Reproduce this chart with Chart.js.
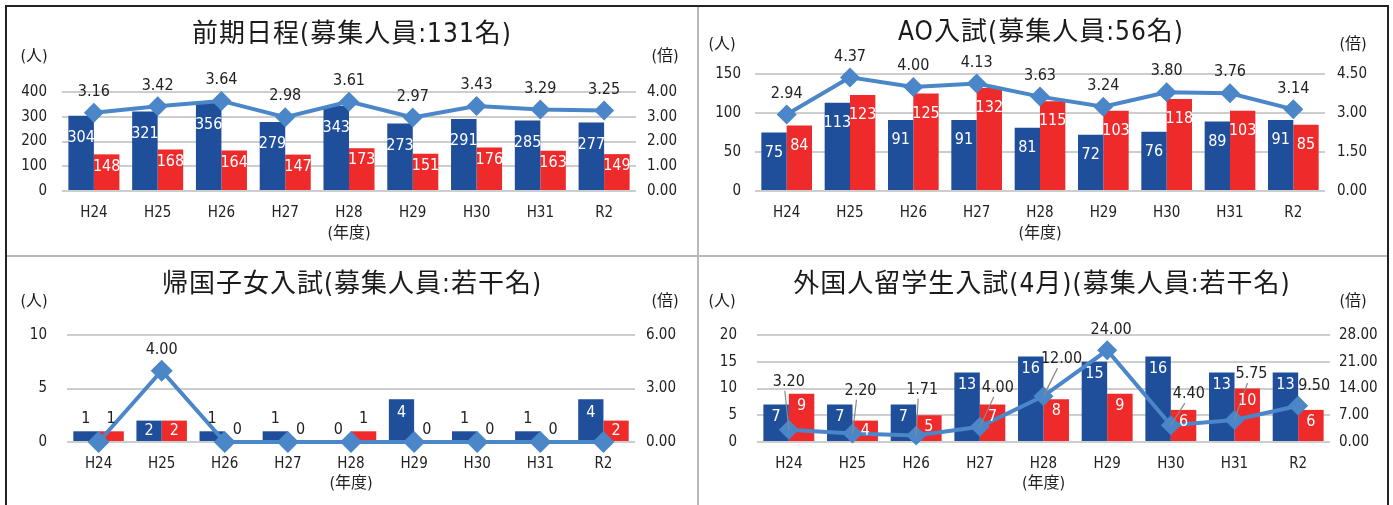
<!DOCTYPE html>
<html>
<head>
<meta charset="utf-8">
<script src="https://cdn.jsdelivr.net/npm/chart.js@4.4.1/dist/chart.umd.min.js"></script>
<style>
  body { margin: 0; background: #fff; width: 1393px; height: 505px; overflow: hidden; position: relative; }
  .frame { position: absolute; left: 5px; top: 5px; width: 1380px; height: 510px; border: 2px solid #222; border-bottom: none; }
  .vline { position: absolute; left: 697px; top: 7px; width: 2px; height: 498px; background: #b9b9bd; }
  .hline { position: absolute; left: 7px; top: 255px; width: 1380px; height: 2px; background: #b9b9bd; }
  canvas { position: absolute; }
</style>
</head>
<body>
<div class="frame"></div>
<div class="vline"></div>
<div class="hline"></div>
<canvas id="c1" width="690" height="248" style="left:7px;top:7px"></canvas>
<canvas id="c2" width="688" height="248" style="left:699px;top:7px"></canvas>
<canvas id="c3" width="690" height="248" style="left:7px;top:257px"></canvas>
<canvas id="c4" width="688" height="248" style="left:699px;top:257px"></canvas>
<script>
// categories
const years = ['H24', 'H25', 'H26', 'H27', 'H28', 'H29', 'H30', 'H31', 'R2'];

// 前期日程
const zenkiApplicants = [304, 321, 356, 279, 343, 273, 291, 285, 277];
const zenkiExaminees = [148, 168, 164, 147, 173, 151, 176, 163, 149];
const zenkiRatio = [3.16, 3.42, 3.64, 2.98, 3.61, 2.97, 3.43, 3.29, 3.25];
const zenkiLeftTicks = [0, 100, 200, 300, 400];
const zenkiRightTicks = [0, 1, 2, 3, 4];

// AO入試
const aoApplicants = [75, 113, 91, 91, 81, 72, 76, 89, 91];
const aoExaminees = [84, 123, 125, 132, 115, 103, 118, 103, 85];
const aoRatio = [2.94, 4.37, 4.00, 4.13, 3.63, 3.24, 3.80, 3.76, 3.14];
const aoLeftTicks = [0, 50, 100, 150];
const aoRightTicks = [0, 1.5, 3, 4.5];

// 帰国子女入試
const kikokuApplicants = [1, 2, 1, 1, 0, 4, 1, 1, 4];
const kikokuExaminees = [1, 2, 0, 0, 1, 0, 0, 0, 2];
const kikokuRatio = [0, 4.00, 0, 0, 0, 0, 0, 0, 0];
const kikokuLeftTicks = [0, 5, 10];
const kikokuRightTicks = [0, 3, 6];

// 外国人留学生入試(4月)
const ryugakuApplicants = [7, 7, 7, 13, 16, 15, 16, 13, 13];
const ryugakuExaminees = [9, 4, 5, 7, 8, 9, 6, 10, 6];
const ryugakuRatio = [3.20, 2.20, 1.71, 4.00, 12.00, 24.00, 4.40, 5.75, 9.50];
const ryugakuLeftTicks = [0, 5, 10, 15, 20];
const ryugakuRightTicks = [0, 7, 14, 21, 28];

const BLUE = '#1f4e9a';
const RED = '#ee2a2b';
const LINE = '#4a86c8';
const NARROW = '"DejaVu Sans Condensed", "Noto Sans CJK JP", sans-serif';

// title, (人), (倍)
const decorPlugin = {
  id: 'decor',
  afterDraw(chart, args, o) {
    const ctx = chart.ctx;
    ctx.save();
    ctx.fillStyle = '#1a1a1a';
    ctx.textBaseline = 'middle';
    ctx.textAlign = 'center';
    ctx.font = '400 26px ' + NARROW;
    ctx.letterSpacing = '1px';
    ctx.fillText(o.title, o.titleX, o.titleY);
    ctx.letterSpacing = '0px';
    ctx.font = '16px ' + NARROW;
    ctx.fillText('(人)', o.leftUnitX, o.unitY);
    ctx.fillText('(倍)', o.rightUnitX, o.unitY);
    ctx.restore();
  }
};

// bar and line value labels
const labelPlugin = {
  id: 'vlabels',
  afterDatasetsDraw(chart, args, o) {
    const ctx = chart.ctx;
    ctx.save();
    ctx.textAlign = 'center';
    ctx.textBaseline = 'middle';
    ctx.font = '16px ' + NARROW;
    chart.data.datasets.forEach((ds, di) => {
      const meta = chart.getDatasetMeta(di);
      meta.data.forEach((el, i) => {
        const v = ds.data[i];
        if (ds.type === 'line') {
          if (!v) return;
          const off = o.callouts ? o.callouts[i] : [0, -o.lineGap];
          const lx = el.x + off[0], ly = el.y + off[1];
          if (o.callouts && Math.abs(off[1]) > 25) {
            ctx.strokeStyle = '#8a8a8a';
            ctx.lineWidth = 1.2;
            ctx.beginPath();
            ctx.moveTo(lx - 4, ly + 9);
            ctx.lineTo(el.x, el.y);
            ctx.stroke();
          }
          ctx.fillStyle = '#222';
          ctx.fillText(v.toFixed(2), lx, ly);
        } else {
          const h = el.base - el.y;
          const gap = ds.labelGap;
          if (h < 18) {
            ctx.fillStyle = '#222';
            ctx.fillText(String(v), el.x, el.y - 12);
          } else {
            ctx.fillStyle = '#fff';
            ctx.fillText(String(v), el.x, el.y + Math.min(gap, h / 2));
          }
        }
      });
    });
    ctx.restore();
  }
};

function makePanel(id, p) {
  const tickFont = { family: NARROW, size: 15 };
  return new Chart(document.getElementById(id), {
    type: 'bar',
    data: {
      labels: years,
      datasets: [
        { type: 'line', data: p.ratio, yAxisID: 'y1', order: 0, clip: false,
          borderColor: LINE, backgroundColor: LINE, borderWidth: 4,
          pointStyle: 'rectRot', pointRadius: p.pointRadius, pointBorderWidth: 0,
          tension: 0 },
        { data: p.blue, backgroundColor: BLUE, order: 1, labelGap: p.blueGap,
          categoryPercentage: 0.8, barPercentage: 1 },
        { data: p.red, backgroundColor: RED, order: 1, labelGap: p.redGap,
          categoryPercentage: 0.8, barPercentage: 1 }
      ]
    },
    options: {
      responsive: false,
      animation: false,
      events: [],
      layout: { padding: { top: p.top } },
      plugins: {
        legend: { display: false },
        tooltip: { enabled: false },
        decor: p.decor,
        vlabels: { lineGap: 21, callouts: p.callouts }
      },
      scales: {
        x: {
          grid: { display: false, drawTicks: false },
          border: { display: false },
          ticks: { font: tickFont, color: '#222', padding: 13 },
          title: { display: true, text: '(年度)', font: { family: NARROW, size: 16 }, color: '#222', padding: { top: 5, bottom: 12 } },
          afterFit(s) { s.height = p.xh; }
        },
        y: {
          min: p.leftTicks[0], max: p.leftTicks[p.leftTicks.length - 1],
          afterBuildTicks(s) { s.ticks = p.leftTicks.map(v => ({ value: v })); },
          grid: { color: '#cdcdcd', lineWidth: 2, drawTicks: false },
          border: { display: false },
          ticks: { font: tickFont, color: '#222', padding: p.leftPad },
          afterFit(s) { s.width = p.lw; }
        },
        y1: {
          position: 'right',
          min: p.rightTicks[0], max: p.rightTicks[p.rightTicks.length - 1],
          afterBuildTicks(s) { s.ticks = p.rightTicks.map(v => ({ value: v })); },
          grid: { display: false, drawTicks: false },
          border: { display: false },
          ticks: { font: tickFont, color: '#222', padding: p.rightPad, callback: v => Number(v).toFixed(2) },
          afterFit(s) { s.width = p.rw; }
        }
      }
    },
    plugins: [decorPlugin, labelPlugin]
  });
}

makePanel('c1', {
  blue: zenkiApplicants, red: zenkiExaminees, ratio: zenkiRatio,
  leftTicks: zenkiLeftTicks, rightTicks: zenkiRightTicks,
  top: 85, xh: 64, lw: 55, rw: 61, leftPad: 15, rightPad: 11,
  pointRadius: 10, blueGap: 22, redGap: 12,
  decor: { title: '前期日程(募集人員:131名)', titleX: 345, titleY: 28, leftUnitX: 27, rightUnitX: 658, unitY: 50 }
});

makePanel('c2', {
  blue: aoApplicants, red: aoExaminees, ratio: aoRatio,
  leftTicks: aoLeftTicks, rightTicks: aoRightTicks,
  top: 67, xh: 64, lw: 56, rw: 62, leftPad: 14, rightPad: 12,
  pointRadius: 10, blueGap: 20, redGap: 20,
  decor: { title: 'AO入試(募集人員:56名)', titleX: 342, titleY: 26, leftUnitX: 23, rightUnitX: 654, unitY: 38 }
});

makePanel('c3', {
  blue: kikokuApplicants, red: kikokuExaminees, ratio: kikokuRatio,
  leftTicks: kikokuLeftTicks, rightTicks: kikokuRightTicks,
  top: 78, xh: 63, lw: 60, rw: 62, leftPad: 20, rightPad: 11,
  pointRadius: 11, blueGap: 14, redGap: 14,
  decor: { title: '帰国子女入試(募集人員:若干名)', titleX: 345, titleY: 28, leftUnitX: 27, rightUnitX: 658, unitY: 45 }
});

makePanel('c4', {
  blue: ryugakuApplicants, red: ryugakuExaminees, ratio: ryugakuRatio,
  leftTicks: ryugakuLeftTicks, rightTicks: ryugakuRightTicks,
  top: 78, xh: 63, lw: 58, rw: 57, leftPad: 20, rightPad: 9,
  pointRadius: 10, blueGap: 12, redGap: 12,
  callouts: [[0, -48], [8, -43], [6, -46], [18, -39], [18, -37], [4, -20], [18, -31], [17, -46], [16, -20]],
  decor: { title: '外国人留学生入試(4月)(募集人員:若干名)', titleX: 343, titleY: 28, leftUnitX: 23, rightUnitX: 654, unitY: 45 }
});
</script>
</body>
</html>
